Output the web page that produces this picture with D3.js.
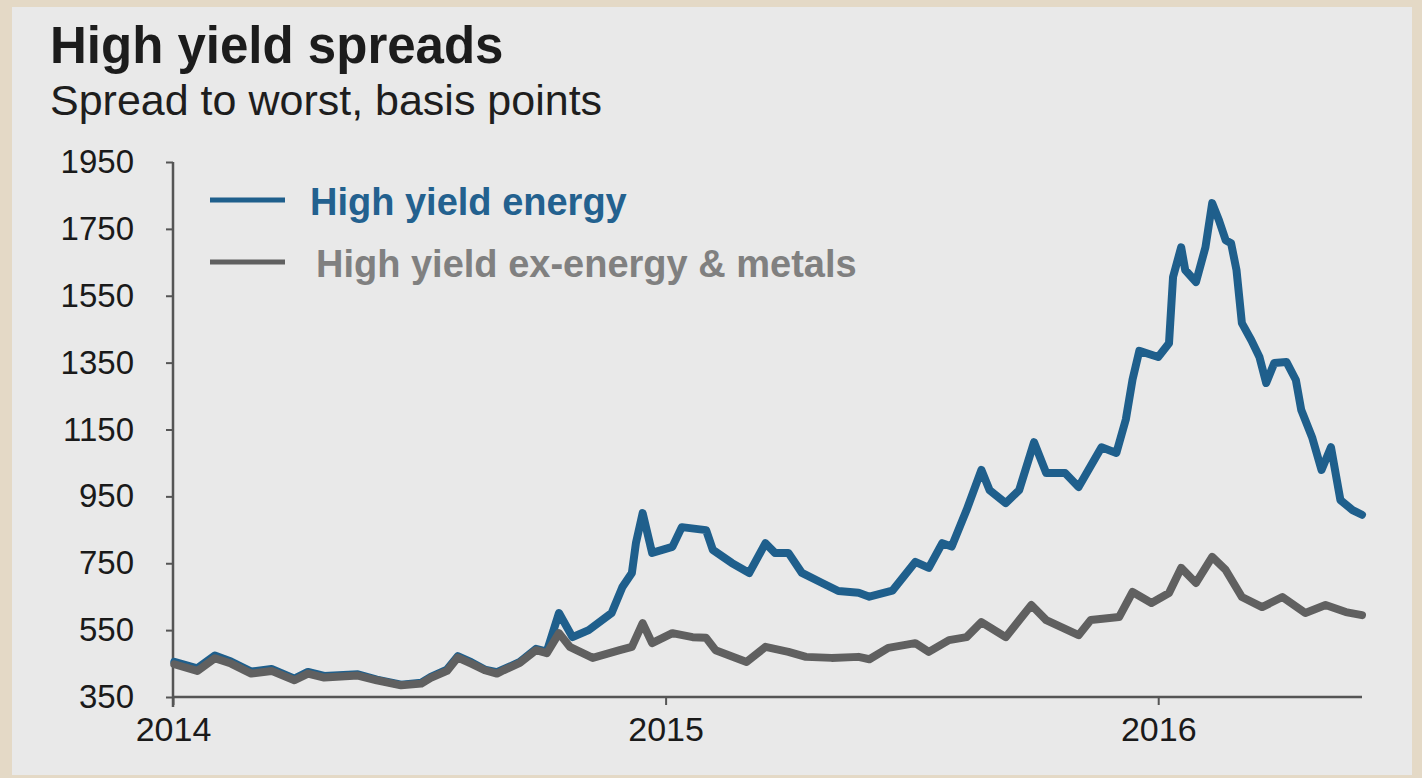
<!DOCTYPE html>
<html>
<head>
<meta charset="utf-8">
<script src="https://cdn.jsdelivr.net/npm/d3@7"></script>
<style>
  body { margin: 0; background: #e4d9c6; }
  svg text { font-family: "Liberation Sans", Arial, sans-serif; }
</style>
</head>
<body>
<div class="container"></div>
<script>
// High yield energy, spread to worst (bp)
const energy = [
  ["2014-01-02", 455], ["2014-01-19", 436], ["2014-02-01", 474], ["2014-02-13", 456],
  ["2014-02-28", 426], ["2014-03-15", 434], ["2014-04-01", 405], ["2014-04-11", 425],
  ["2014-04-23", 413], ["2014-05-18", 418], ["2014-06-01", 402], ["2014-06-19", 387],
  ["2014-07-04", 393], ["2014-07-11", 410], ["2014-07-23", 432], ["2014-07-31", 472],
  ["2014-08-10", 454], ["2014-08-20", 432], ["2014-08-29", 424], ["2014-09-03", 433],
  ["2014-09-15", 455], ["2014-09-27", 494], ["2014-10-05", 486], ["2014-10-14", 601],
  ["2014-10-24", 529], ["2014-11-05", 550], ["2014-11-22", 601], ["2014-11-30", 679],
  ["2014-12-07", 721], ["2014-12-10", 810], ["2014-12-15", 900], ["2014-12-22", 781],
  ["2015-01-06", 799], ["2015-01-13", 858], ["2015-01-31", 849], ["2015-02-05", 790],
  ["2015-02-19", 751], ["2015-03-04", 721], ["2015-03-16", 810], ["2015-03-23", 781],
  ["2015-04-02", 781], ["2015-04-12", 721], ["2015-04-27", 691], ["2015-05-09", 667],
  ["2015-05-24", 662], ["2015-06-01", 650], ["2015-06-18", 668], ["2015-07-05", 754],
  ["2015-07-15", 736], ["2015-07-25", 810], ["2015-08-01", 800], ["2015-08-12", 909],
  ["2015-08-23", 1029], ["2015-08-29", 969], ["2015-09-10", 930], ["2015-09-20", 969],
  ["2015-10-01", 1112], ["2015-10-10", 1020], ["2015-10-24", 1020], ["2015-11-03", 978],
  ["2015-11-20", 1097], ["2015-12-01", 1080], ["2015-12-08", 1180], ["2015-12-13", 1300],
  ["2015-12-18", 1385], ["2016-01-01", 1367], ["2016-01-09", 1408], ["2016-01-12", 1606],
  ["2016-01-18", 1695], ["2016-01-21", 1627], ["2016-01-29", 1591], ["2016-02-05", 1695],
  ["2016-02-10", 1827], ["2016-02-15", 1776], ["2016-02-20", 1716], ["2016-02-24", 1707],
  ["2016-02-28", 1627], ["2016-03-03", 1468], ["2016-03-10", 1417], ["2016-03-16", 1367],
  ["2016-03-21", 1289], ["2016-03-27", 1349], ["2016-04-05", 1352], ["2016-04-12", 1298],
  ["2016-04-16", 1208], ["2016-04-24", 1127], ["2016-05-01", 1029], ["2016-05-08", 1097],
  ["2016-05-15", 939], ["2016-05-24", 909], ["2016-05-31", 895]
];

// High yield ex-energy & metals
const exEnergy = [
  ["2014-01-02", 448], ["2014-01-19", 428], ["2014-02-01", 466], ["2014-02-13", 450],
  ["2014-02-28", 420], ["2014-03-15", 428], ["2014-04-01", 400], ["2014-04-11", 420],
  ["2014-04-23", 408], ["2014-05-18", 414], ["2014-06-01", 400], ["2014-06-19", 385],
  ["2014-07-04", 390], ["2014-07-11", 407], ["2014-07-23", 428], ["2014-07-31", 468],
  ["2014-08-10", 450], ["2014-08-20", 430], ["2014-08-29", 420], ["2014-09-03", 430],
  ["2014-09-15", 452], ["2014-09-27", 490], ["2014-10-05", 481], ["2014-10-14", 541],
  ["2014-10-22", 500], ["2014-11-08", 467], ["2014-11-28", 490], ["2014-12-07", 500],
  ["2014-12-15", 571], ["2014-12-22", 511], ["2015-01-06", 541], ["2015-01-21", 529],
  ["2015-01-31", 527], ["2015-02-07", 490], ["2015-03-02", 455], ["2015-03-16", 500],
  ["2015-04-02", 485], ["2015-04-15", 470], ["2015-05-04", 467], ["2015-05-24", 470],
  ["2015-06-01", 463], ["2015-06-15", 497], ["2015-07-05", 511], ["2015-07-15", 485],
  ["2015-07-30", 520], ["2015-08-12", 529], ["2015-08-23", 574], ["2015-09-10", 529],
  ["2015-09-29", 625], ["2015-10-10", 580], ["2015-11-03", 535], ["2015-11-12", 580],
  ["2015-12-03", 589], ["2015-12-13", 664], ["2015-12-27", 631], ["2016-01-09", 661],
  ["2016-01-18", 736], ["2016-01-29", 691], ["2016-02-10", 769], ["2016-02-20", 730],
  ["2016-03-03", 649], ["2016-03-18", 619], ["2016-04-02", 649], ["2016-04-19", 601],
  ["2016-05-04", 625], ["2016-05-19", 604], ["2016-05-31", 595]
];

const yTicks = [350, 550, 750, 950, 1150, 1350, 1550, 1750, 1950];
const xTicks = ["2014-01-01", "2015-01-01", "2016-01-01"];
const seriesNames = ["High yield energy", "High yield ex-energy & metals"];

const W = 1422, H = 778;
const parse = d3.timeParse("%Y-%m-%d");

const svg = d3.select(".container").append("svg")
  .attr("width", W).attr("height", H);

// grey panel
svg.append("rect")
  .attr("x", 12).attr("y", 7).attr("width", 1400).attr("height", 768)
  .attr("fill", "#e9e9e9");

svg.append("text").attr("x", 50).attr("y", 63)
  .attr("font-size", 51).attr("font-weight", "bold").attr("fill", "#1c1c1c")
  .text("High yield spreads");
svg.append("text").attr("x", 50).attr("y", 115)
  .attr("font-size", 43).attr("fill", "#1e1e1e")
  .text("Spread to worst, basis points");

const x = d3.scaleTime()
  .domain([parse("2014-01-01"), parse("2016-05-31")])
  .range([173, 1362]);
const y = d3.scaleLinear().domain([350, 1950]).range([697, 162]);

// y axis
const yAxis = svg.append("g").attr("transform", "translate(173,0)")
  .call(d3.axisLeft(y).tickValues(yTicks).tickSize(7).tickPadding(32).tickFormat(d3.format("d")));
yAxis.select(".domain").attr("d", "M0,162V707").attr("stroke", "#555").attr("stroke-width", 2.5);
yAxis.selectAll(".tick line").attr("stroke", "#555").attr("stroke-width", 2);
yAxis.selectAll(".tick text").attr("font-size", 33).attr("fill", "#1a1a1a")
  .attr("font-family", "Liberation Sans, Arial, sans-serif");

// x axis
const xAxis = svg.append("g").attr("transform", "translate(0,697)")
  .call(d3.axisBottom(x).tickValues(xTicks.map(parse)).tickSize(8).tickPadding(12)
    .tickFormat(d3.timeFormat("%Y")));
xAxis.select(".domain").attr("d", "M173,0H1362").attr("stroke", "#555").attr("stroke-width", 2.5);
xAxis.selectAll(".tick line").attr("stroke", "#555").attr("stroke-width", 2);
xAxis.selectAll(".tick text").attr("font-size", 34).attr("fill", "#1a1a1a")
  .attr("font-family", "Liberation Sans, Arial, sans-serif");

const line = d3.line()
  .x(d => x(parse(d[0])))
  .y(d => y(d[1]));

svg.append("path").datum(energy)
  .attr("d", line).attr("fill", "none")
  .attr("stroke", "#1f5f8c").attr("stroke-width", 8)
  .attr("stroke-linejoin", "round").attr("stroke-linecap", "round");

svg.append("path").datum(exEnergy)
  .attr("d", line).attr("fill", "none")
  .attr("stroke", "#606060").attr("stroke-width", 8)
  .attr("stroke-linejoin", "round").attr("stroke-linecap", "round");

// legend
const legend = [
  { name: seriesNames[0], stroke: "#1f5f8c", text: "#23618f", y: 200, tx: 310 },
  { name: seriesNames[1], stroke: "#606060", text: "#808080", y: 262, tx: 316 }
];
legend.forEach(function (l) {
  svg.append("line").attr("x1", 210).attr("x2", 285).attr("y1", l.y).attr("y2", l.y)
    .attr("stroke", l.stroke).attr("stroke-width", 5);
  svg.append("text").attr("x", l.tx).attr("y", l.y + 15)
    .attr("font-size", 38).attr("font-weight", "bold").attr("fill", l.text)
    .text(l.name);
});
</script>
</body>
</html>
